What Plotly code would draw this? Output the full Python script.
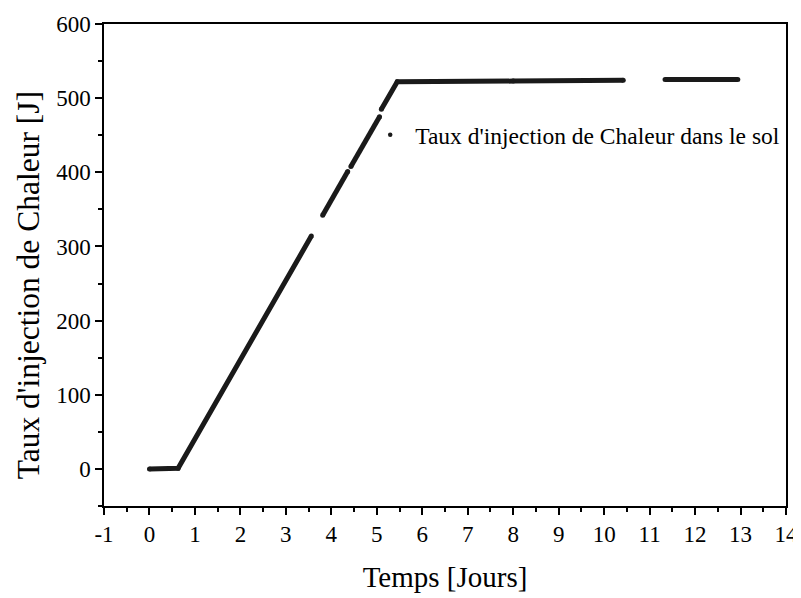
import plotly.graph_objects as go

# Data (segments separated by None where the curve has gaps)
temps_jours = [0, 0.63, 3.56, None, 3.81, 4.36, None, 4.43, 5.06, None,
               5.10, 5.45, 8.0, 10.42, None, 11.34, 12.94]
taux_chaleur = [0, 1, 314, None, 342, 401, None, 408, 475, None,
                485, 522, 523, 524, None, 525, 525]

x_tick_values = [-1, 0, 1, 2, 3, 4, 5, 6, 7, 8, 9, 10, 11, 12, 13, 14]
x_tick_labels = ["-1", "0", "1", "2", "3", "4", "5", "6", "7", "8", "9",
                 "10", "11", "12", "13", "14"]
y_tick_values = [0, 100, 200, 300, 400, 500, 600]
y_tick_labels = ["0", "100", "200", "300", "400", "500", "600"]

legend_name = "Taux d'injection de Chaleur dans le sol"
x_title = "Temps [Jours]"
y_title = "Taux d'injection de Chaleur [J]"

FONT = "Liberation Serif"

fig = go.Figure()
fig.add_trace(go.Scatter(
    x=temps_jours, y=taux_chaleur, mode="lines+markers",
    line=dict(color="#1a1a1a", width=5),
    marker=dict(color="#1a1a1a", size=5),
    connectgaps=False, showlegend=False, hoverinfo="x+y"))
fig.add_trace(go.Scatter(
    x=[None], y=[None], mode="markers", name=legend_name,
    marker=dict(color="#1a1a1a", size=4.5), showlegend=True))

axis_common = dict(
    showgrid=False, zeroline=False, showline=True, linecolor="black",
    linewidth=1.5, mirror=True, ticks="outside", ticklen=7, tickwidth=1.5,
    tickcolor="black", tickfont=dict(family=FONT, size=23, color="black"),
    automargin=False,
)

fig.update_xaxes(
    range=[-1, 14], tickmode="array", tickvals=x_tick_values, ticktext=x_tick_labels,
    minor=dict(ticks="outside", ticklen=4, tickwidth=1.5, dtick=0.5, tick0=0, tickcolor="black"),
    title=dict(text=x_title, font=dict(family=FONT, size=29, color="black"), standoff=20),
    **axis_common)
fig.update_yaxes(
    range=[-50, 600], tickmode="array", tickvals=y_tick_values, ticktext=y_tick_labels,
    minor=dict(ticks="outside", ticklen=4, tickwidth=1.5, dtick=50, tick0=0, tickcolor="black"),
    **axis_common)

fig.add_annotation(
    text=y_title, textangle=-90, xref="paper", yref="paper",
    x=-0.111, y=0.4585, xanchor="center", yanchor="middle", showarrow=False,
    font=dict(family=FONT, size=31.5, color="black"))

fig.update_layout(
    width=793, height=590,
    margin=dict(l=96, r=15, t=16, b=92),
    paper_bgcolor="white", plot_bgcolor="white",
    font=dict(family=FONT, color="black"),
    legend=dict(x=0.383, y=0.77, xanchor="left", yanchor="middle",
                bgcolor="rgba(0,0,0,0)", borderwidth=0, itemwidth=40,
                font=dict(family=FONT, size=23.5, color="black")),
)

fig.write_html("out.html")
